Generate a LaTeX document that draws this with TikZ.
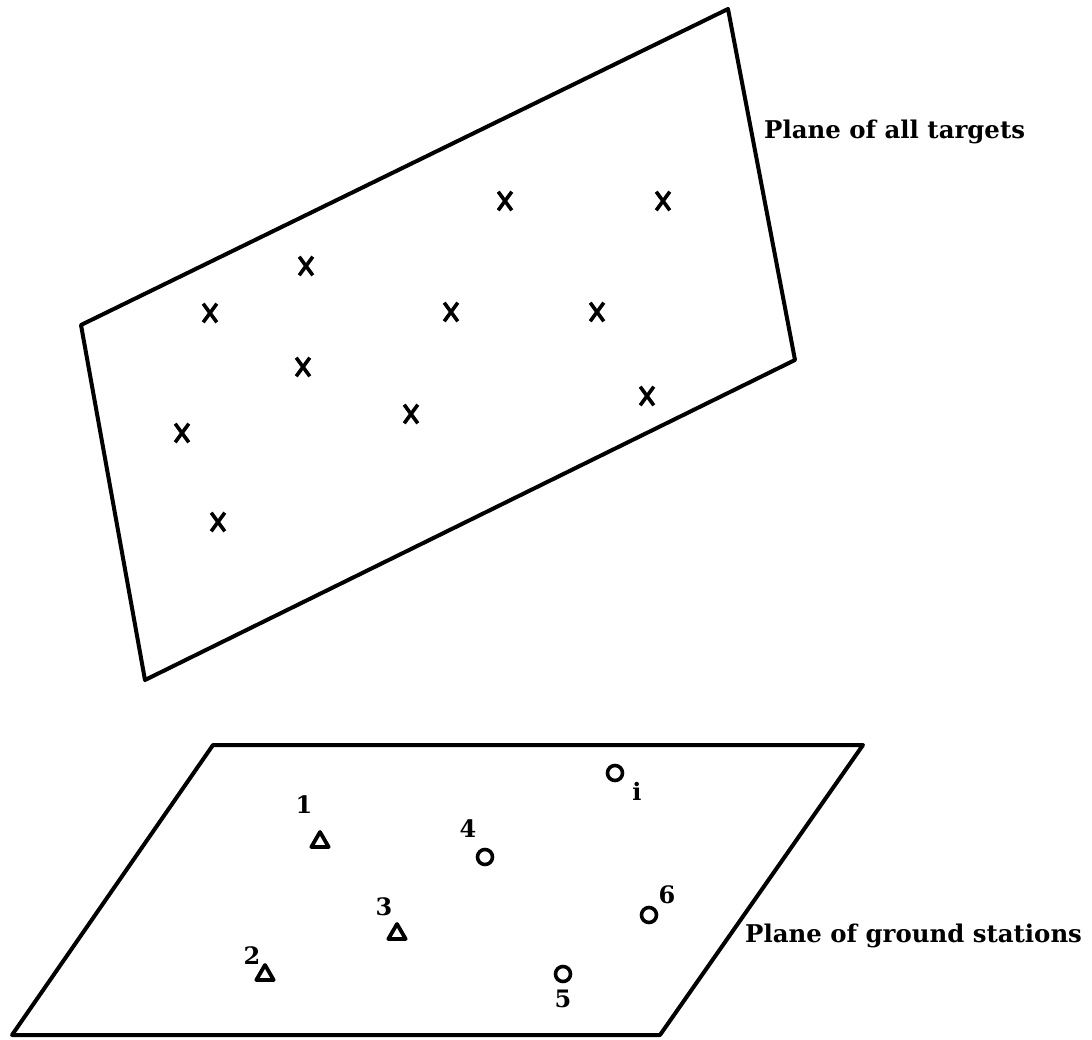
\documentclass[tikz,border=0pt]{standalone}
\usepackage{fontspec}
\setmainfont{DejaVu Serif}
\usetikzlibrary{positioning}
\usetikzlibrary{shapes.misc}
\usetikzlibrary{shapes.geometric}

\begin{document}
\begin{tikzpicture}[
            x=1pt, y=-1pt, line join=round,
            plane/.style={line width=4pt},
            target/.style={draw, cross out, line width=3.6pt, minimum width=10pt, minimum height=15pt, inner sep=0pt},
            tri/.style={draw, regular polygon, regular polygon sides=3, line width=3.8pt, minimum size=20pt, inner sep=0pt},
            rcv/.style={draw, circle, line width=3.6pt, minimum size=15pt, inner sep=0pt},
            num/.style={inner sep=0pt, font=\fontsize{24}{28}\selectfont\bfseries},
            caption/.style={anchor=west, inner sep=0pt, font=\fontsize{24.4}{29}\selectfont\bfseries}
        ]
            \useasboundingbox (0,0) rectangle (1092,1040);

            % Plane of all targets
            \coordinate (ta) at (728,9);
            \coordinate (tb) at (795,360);
            \coordinate (tc) at (145,680);
            \coordinate (td) at (81,325);
            \draw[plane] (ta) -- (tb) -- (tc) -- (td) -- cycle;
            \node[caption] (tcap) at (764,132) {Plane of all targets};

            \node[target] (t1) at (505,201) {};
            \node[target] (t2) at (663,201) {};
            \node[target] (t3) at (306,266) {};
            \node[target] (t4) at (210,313) {};
            \node[target] (t5) at (451,312) {};
            \node[target] (t6) at (597,312) {};
            \node[target] (t7) at (303,367) {};
            \node[target] (t8) at (411,414) {};
            \node[target] (t9) at (647,396) {};
            \node[target] (t10) at (182,433) {};
            \node[target] (t11) at (218,522) {};

            % Plane of ground stations
            \coordinate (ga) at (213,745);
            \coordinate (gb) at (863,745);
            \coordinate (gc) at (660,1035);
            \coordinate (gd) at (12,1035);
            \draw[plane] (ga) -- (gb) -- (gc) -- (gd) -- cycle;
            \node[caption] (gcap) at (745,936) {Plane of ground stations};

            \node[tri] (s1) at (320,842) {};
            \node[num] (n1) at (304,805) {1};
            \node[tri] (s2) at (265,975) {};
            \node[num] (n2) at (252,956) {2};
            \node[tri] (s3) at (397,934) {};
            \node[num] (n3) at (384,907) {3};
            \node[rcv] (s4) at (485,857) {};
            \node[num] (n4) at (468,829) {4};
            \node[rcv] (s5) at (563,974) {};
            \node[num] (n5) at (563,999) {5};
            \node[rcv] (s6) at (649,915) {};
            \node[num] (n6) at (667,895) {6};
            \node[rcv] (si) at (615,773) {};
            \node[num] (ni) at (637,791) {i};
        \end{tikzpicture}
\end{document}
